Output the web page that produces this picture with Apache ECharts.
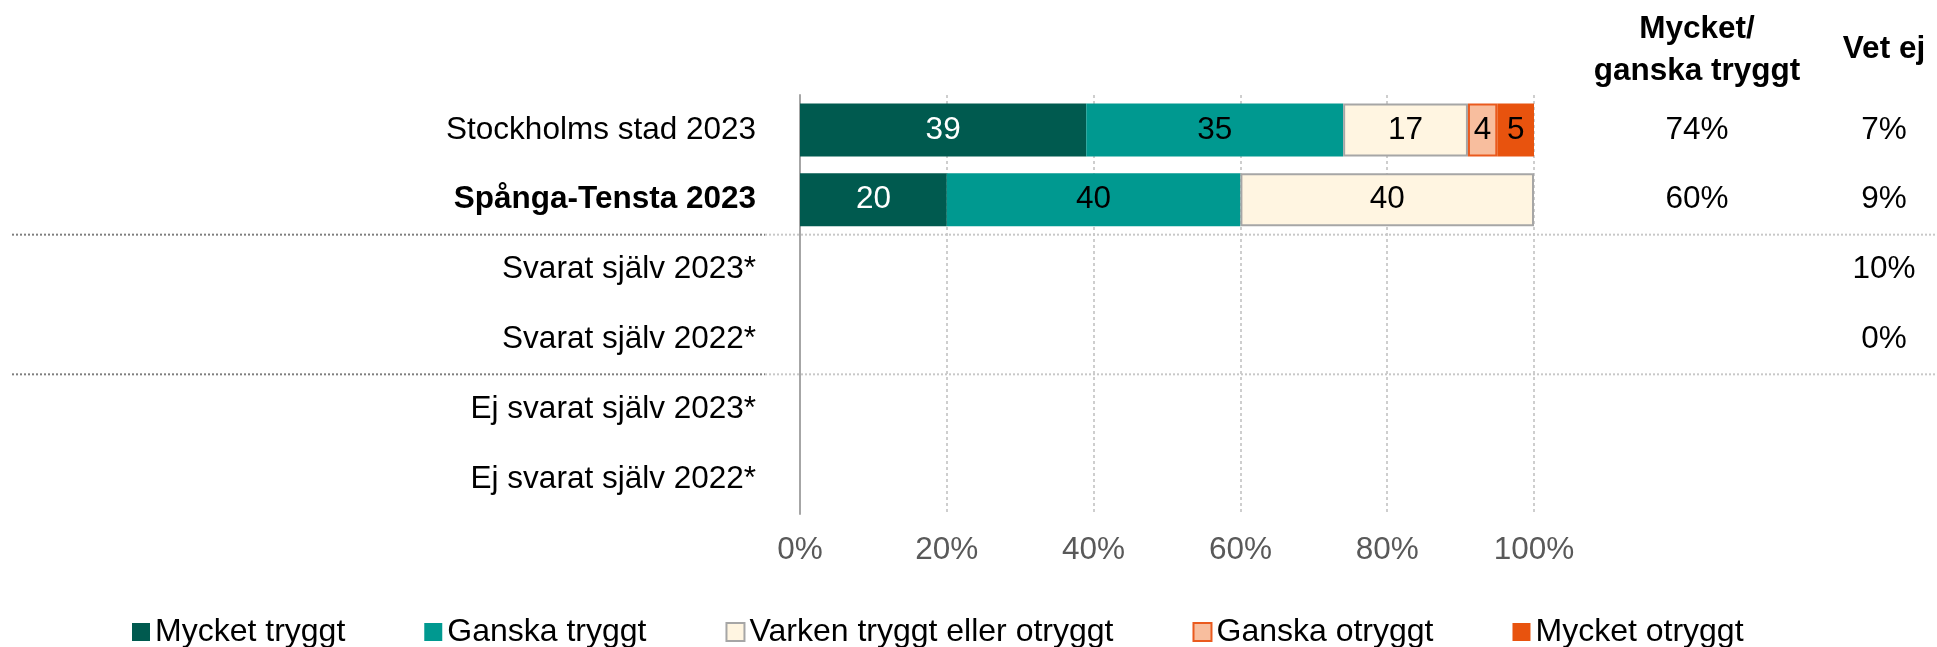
<!DOCTYPE html>
<html>
<head>
<meta charset="utf-8">
<script src="https://cdn.jsdelivr.net/npm/echarts@6/dist/echarts.min.js"></script>
<style>
  html, body { margin: 0; padding: 0; background: #fff; }
  #chart { width: 1937px; height: 647px; }
</style>
</head>
<body>
<div id="chart"></div>
<script>
// Rows of the chart (top to bottom)
const categories = [
  'Stockholms stad 2023',
  'Spånga-Tensta 2023',
  'Svarat själv 2023*',
  'Svarat själv 2022*',
  'Ej svarat själv 2023*',
  'Ej svarat själv 2022*'
];
const boldRow = 'Spånga-Tensta 2023';

// Share of answers per row (percent)
const mycketTryggt   = [39, 20, null, null, null, null];
const ganskaTryggt   = [35, 40, null, null, null, null];
const varken         = [17, 40, null, null, null, null];
const ganskaOtryggt  = [4, null, null, null, null, null];
const mycketOtryggt  = [5, null, null, null, null, null];

// Side columns
const tryggtTotal = ['74%', '60%', '', '', '', ''];
const vetEj       = ['7%', '9%', '10%', '0%', '', ''];

// Value axis ticks
const xMin = 0, xMax = 100, xStep = 20;

const FONT = "'Liberation Sans', Arial, sans-serif";
const FS = 31.5;
const LEGEND_FS = 32;

const chart = echarts.init(document.getElementById('chart'), null, { renderer: 'canvas' });

function barSeries(name, data, color, labelColor, border) {
  return {
    name: name,
    type: 'bar',
    stack: 'total',
    yAxisIndex: 0,
    barWidth: 53,
    data: data,
    itemStyle: Object.assign({ color: color }, border || {}),
    label: {
      show: true,
      position: 'inside',
      color: labelColor,
      fontSize: FS,
      fontFamily: FONT
    },
    emphasis: { disabled: true }
  };
}

function sideAxis(values, margin) {
  return {
    type: 'category',
    position: 'right',
    inverse: true,
    data: categories,
    axisLine: { show: false },
    axisTick: { show: false },
    splitLine: { show: false },
    axisLabel: {
      margin: margin,
      align: 'center',
      fontSize: FS,
      fontFamily: FONT,
      color: '#000',
      formatter: function (v, i) { return values[i]; }
    }
  };
}

const option = {
  animation: false,
  backgroundColor: '#fff',
  textStyle: { fontFamily: FONT },
  grid: { left: 800, right: 403, top: 95, bottom: 133 },
  legend: {
    left: 127,
    top: 611,
    icon: 'rect',
    itemWidth: 18,
    itemHeight: 18,
    itemGap: 79,
    textStyle: { fontSize: LEGEND_FS, fontFamily: FONT, color: '#000' },
    data: ['Mycket tryggt', 'Ganska tryggt', 'Varken tryggt eller otryggt', 'Ganska otryggt', 'Mycket otryggt']
  },
  xAxis: {
    type: 'value',
    min: xMin,
    max: xMax,
    interval: xStep,
    axisLine: { show: false },
    axisTick: { show: false },
    splitLine: { show: true, lineStyle: { color: '#bfbfbf', width: 1.5, type: [3, 3] } },
    axisLabel: {
      margin: 20,
      fontSize: FS,
      fontFamily: FONT,
      color: '#595959',
      formatter: '{value}%'
    }
  },
  yAxis: [
    {
      type: 'category',
      inverse: true,
      data: categories.map(c => c === boldRow
        ? { value: c, textStyle: { fontWeight: 'bold' } }
        : c),
      axisLine: { show: true, lineStyle: { color: '#a6a6a6', width: 2 } },
      axisTick: { show: false },
      axisLabel: {
        margin: 44,
        fontSize: FS,
        fontFamily: FONT,
        color: '#000'
      }
    },
    sideAxis(tryggtTotal, 163),
    sideAxis(vetEj, 350)
  ],
  series: [
    barSeries('Mycket tryggt', mycketTryggt, '#005a4f', '#fff'),
    barSeries('Ganska tryggt', ganskaTryggt, '#009990', '#000'),
    barSeries('Varken tryggt eller otryggt', varken, '#fff5e1', '#000',
      { borderColor: '#a6a6a6', borderWidth: 2 }),
    barSeries('Ganska otryggt', ganskaOtryggt, '#f8be9e', '#000',
      { borderColor: '#ea5a1e', borderWidth: 2 }),
    barSeries('Mycket otryggt', mycketOtryggt, '#e8530e', '#000')
  ]
};

chart.setOption(option);

// Column headers and dotted group separators
const yAt = i => chart.convertToPixel({ yAxisIndex: 0 }, categories[i]);
const sep1 = (yAt(1) + yAt(2)) / 2;
const sep2 = (yAt(3) + yAt(4)) / 2;

function sepLines(y) {
  return [
    {
      type: 'line',
      shape: { x1: 12, y1: y, x2: 765, y2: y },
      style: { stroke: '#7f7f7f', lineWidth: 2, lineDash: [2, 2] }
    },
    {
      type: 'line',
      shape: { x1: 765, y1: y, x2: 1937, y2: y },
      style: { stroke: '#c8c8c8', lineWidth: 2, lineDash: [2, 2] }
    }
  ];
}

const headStyle = {
  fontSize: FS,
  fontWeight: 'bold',
  fontFamily: FONT,
  fill: '#000',
  textAlign: 'center',
  textVerticalAlign: 'middle'
};

chart.setOption({
  graphic: [].concat(
    sepLines(sep1),
    sepLines(sep2),
    [
      { type: 'text', x: 1697, y: 29, style: Object.assign({ text: 'Mycket/' }, headStyle) },
      { type: 'text', x: 1697, y: 71, style: Object.assign({ text: 'ganska tryggt' }, headStyle) },
      { type: 'text', x: 1884, y: 49, style: Object.assign({ text: 'Vet ej' }, headStyle) }
    ]
  )
});
</script>
</body>
</html>
